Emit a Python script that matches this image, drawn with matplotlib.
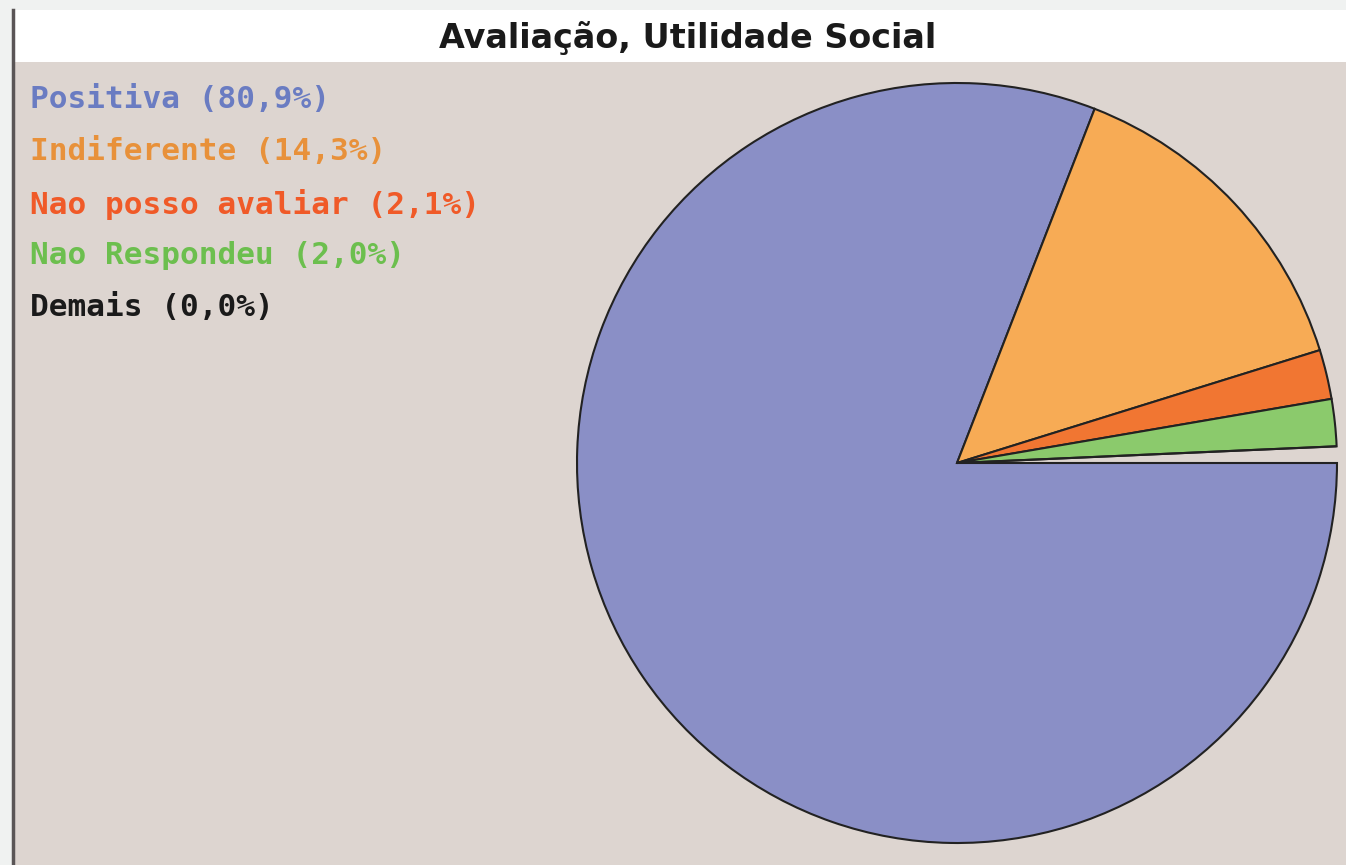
import matplotlib
matplotlib.use("Agg")
import matplotlib.pyplot as plt
from matplotlib.patches import Rectangle

# data
labels = ["Positiva", "Indiferente", "Nao posso avaliar", "Nao Respondeu", "Demais"]
shares = [80.9, 14.3, 2.1, 2.0, 0.0]
slice_colors = ["#8a8fc6", "#f7ab55", "#f17632", "#8bca6c", "#1a1a1a"]
text_colors = ["#6a7cc2", "#e8913a", "#f05a28", "#6cbf4e", "#1a1a1a"]
title = "Avaliação, Utilidade Social"

W, H = 1346, 865
fig = plt.figure(figsize=(W / 100, H / 100), dpi=100)
fig.patch.set_facecolor("#f0f2f1")
ax = fig.add_axes([0, 0, 1, 1])

# frame pieces: white title strip, beige plot area, dark left rule
ax.add_patch(Rectangle((15, H - 62), W - 15, 52, facecolor="white", edgecolor="none"))
ax.add_patch(Rectangle((15, 0), W - 15, H - 62, facecolor="#ddd5d0", edgecolor="none"))
ax.plot([13, 13], [0, H - 10], color="#5a5556", lw=2.5)

ax.text(688, H - 38, title, ha="center", va="center", fontsize=24,
        family="DejaVu Sans", fontweight="bold", color="#1a1a1a")

# pie (fractions, so the leftover sliver stays empty like the original)
fracs = [s / 100 for s in shares]
ax.pie(fracs, colors=slice_colors, normalize=False, startangle=0, counterclock=False,
       center=(957, H - 463), radius=380, frame=True,
       wedgeprops=dict(edgecolor="#222222", linewidth=1.5))
ax.set_xlim(0, W)
ax.set_ylim(0, H)
ax.set_aspect("equal")
ax.axis("off")

y0 = 100
for i, (lab, val) in enumerate(zip(labels, shares)):
    y = y0 + i * 52
    ax.text(30, H - y, f"{lab} ({val:.1f}%)".replace(".", ","), ha="left", va="center",
            fontsize=22.4, family="DejaVu Sans Mono", fontweight="bold", color=text_colors[i])

fig.savefig("out.png", dpi=100, facecolor=fig.get_facecolor())
